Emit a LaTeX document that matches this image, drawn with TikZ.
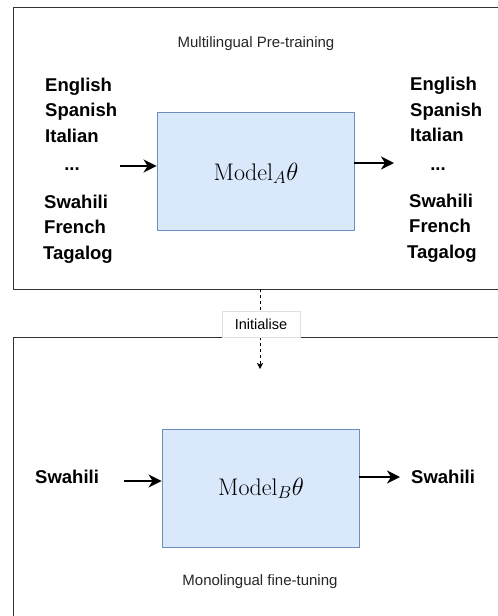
\documentclass[tikz,border=0pt]{standalone}
\usepackage{fontspec}
\newfontfamily\arialfont{Liberation Sans}
\usetikzlibrary{arrows.meta}
\definecolor{modelfill}{HTML}{DAE8FC}
\definecolor{modeldraw}{HTML}{6C8EBF}
\definecolor{framecol}{HTML}{333333}
\definecolor{labelborder}{HTML}{E0E0E0}
\tikzset{
  frame/.style={draw=framecol, line width=1pt},
  modelbox/.style={draw=modeldraw, fill=modelfill, line width=0.9pt, minimum width=197pt, minimum height=118pt, inner sep=0pt},
  lang/.style={font=\arialfont\bfseries\fontsize{18.5}{20}\selectfont, inner sep=0pt, anchor=base west},
  small/.style={font=\arialfont\fontsize{15}{17}\selectfont, text=black!85, inner sep=0pt},
  modeltxt/.style={font=\fontsize{24}{26}\selectfont, inner sep=0pt, anchor=base},
  flow/.style={-{Stealth[length=13pt,width=13pt,inset=4pt]}, line width=2pt},
  initarrow/.style={-{Stealth[length=6pt,width=6pt,inset=1.5pt]}, line width=1pt, dash pattern=on 3pt off 3pt},
  labelbox/.style={draw=labelborder, fill=white, line width=0.8pt, font=\arialfont\fontsize{14.5}{16}\selectfont, minimum width=78pt, minimum height=26pt, inner sep=0pt}
}
\begin{document}
\begin{tikzpicture}[x=1pt,y=-1pt]
\clip (0,0) rectangle (498,616);
\fill[white] (0,0) rectangle (498,616);
% frames
\draw[frame] (13,7) rectangle (515,289);
\draw[frame] (13,337) rectangle (515,640);
\coordinate (topframebottom) at (260,289);
% top section
\node[small] (title1) at (256,44) {Multilingual Pre-training};
\node[modelbox] (modelA) at (255.5,171) {};
\node[modeltxt] (modelAtxt) at (256,180) {$\mathrm{Model}_{A}\theta$};
% left list
\node[lang] (lEn) at (45,91.5) {English};
\node[lang] (lSp) at (45,116.5) {Spanish};
\node[lang] (lIt) at (45,142.5) {Italian};
\node[lang, anchor=base] (lDots) at (72,170) {...};
\node[lang] (lSw) at (44,208) {Swahili};
\node[lang] (lFr) at (44,233) {French};
\node[lang] (lTa) at (43,259) {Tagalog};
% right list
\node[lang] (rEn) at (410,90.7) {English};
\node[lang] (rSp) at (410,116) {Spanish};
\node[lang] (rIt) at (410,141.7) {Italian};
\node[lang, anchor=base] (rDots) at (438,170) {...};
\node[lang] (rSw) at (409,207) {Swahili};
\node[lang] (rFr) at (409,232) {French};
\node[lang] (rTa) at (407,258) {Tagalog};
% top arrows
\coordinate (inA) at (120,166);
\coordinate (outA) at (394,163);
\draw[flow] (inA) -- (inA -| modelA.west);
\draw[flow] (outA -| modelA.east) -- (outA);
% bottom section
\node[modelbox] (modelB) at (260.5,488) {};
\node[modeltxt] (modelBtxt) at (261,495) {$\mathrm{Model}_{B}\theta$};
\node[lang] (bIn) at (35,483.5) {Swahili};
\node[lang] (bOut) at (411,483) {Swahili};
\coordinate (inB) at (124,481);
\coordinate (outB) at (400,477);
\draw[flow] (inB) -- (inB -| modelB.west);
\draw[flow] (outB -| modelB.east) -- (outB);
\node[small] (title2) at (260,582) {Monolingual fine-tuning};
% initialise
\coordinate (initend) at (260,369);
\draw[initarrow] (topframebottom) -- (initend);
\node[labelbox] (init) at (261,324) {Initialise};
\end{tikzpicture}
\end{document}
